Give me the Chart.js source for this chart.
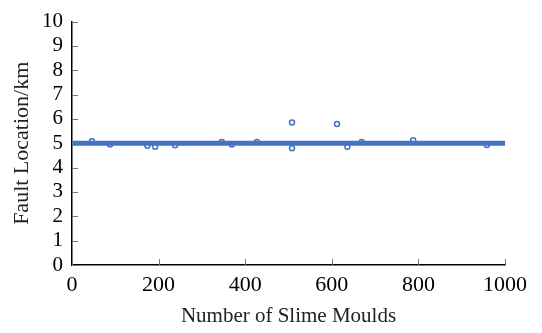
<!DOCTYPE html>
<html>
<head>
<meta charset="utf-8">
<script src="https://cdn.jsdelivr.net/npm/chart.js@4"></script>
<style>
  html, body { margin: 0; padding: 0; background: #fff; }
  #wrap { width: 542px; height: 333px; }
</style>
</head>
<body>
<div id="wrap"><canvas id="chart"></canvas></div>
<script>
// converged population: almost every slime mould sits at 5 km
const bandX = [0, 1000];
const bandY = [5, 5];

// individuals that stray from the band
const strayX = [46, 88, 174, 192, 238, 346, 369, 427, 508, 508, 612, 636, 669, 788, 958];
const strayY = [5.08, 4.95, 4.9, 4.86, 4.92, 5.05, 4.95, 5.05, 5.85, 4.8, 5.79, 4.86, 5.05, 5.13, 4.93];

const xTicks = [0, 200, 400, 600, 800, 1000];
const yTicks = [0, 1, 2, 3, 4, 5, 6, 7, 8, 9, 10];

const blue = 'rgb(68,114,196)';
const serif = "'Liberation Serif', 'Times New Roman', serif";

const toPoints = (xs, ys) => xs.map((x, i) => ({x: x, y: ys[i]}));

// short tick marks pointing into the plot area
const innerTicks = {
    id: 'innerTicks',
    afterDraw(chart) {
        const ctx = chart.ctx;
        const xs = chart.scales.x, ys = chart.scales.y;
        ctx.save();
        ctx.lineWidth = 1;
        yTicks.forEach(v => {
            const py = Math.round(ys.getPixelForValue(v)) + 0.5;
            ctx.strokeStyle = v === 6 ? blue : '#777';
            ctx.beginPath();
            ctx.moveTo(xs.left, py);
            ctx.lineTo(xs.left + 6, py);
            ctx.stroke();
        });
        ctx.strokeStyle = '#777';
        xTicks.forEach(v => {
            const px = Math.round(xs.getPixelForValue(v)) + 0.5;
            ctx.beginPath();
            ctx.moveTo(px, ys.bottom);
            ctx.lineTo(px, ys.bottom - 6);
            ctx.stroke();
        });
        ctx.restore();
    }
};

new Chart(document.getElementById('chart'), {
    type: 'scatter',
    data: {
        datasets: [{
            type: 'line',
            data: toPoints(bandX, bandY),
            borderColor: blue,
            borderWidth: 5,
            borderCapStyle: 'round',
            pointRadius: 0,
            fill: false
        }, {
            data: toPoints(strayX, strayY),
            pointStyle: 'circle',
            pointRadius: 2.5,
            borderWidth: 1.5,
            borderColor: blue,
            backgroundColor: '#fff'
        }]
    },
    options: {
        responsive: true,
        maintainAspectRatio: false,
        animation: false,
        layout: {padding: {top: 13, right: 37, left: 0, bottom: 0}},
        plugins: {legend: {display: false}, tooltip: {enabled: false}},
        scales: {
            x: {
                type: 'linear', min: 0, max: 1000,
                afterBuildTicks: s => { s.ticks = xTicks.map(v => ({value: v})); },
                afterFit: s => { s.height = 68; },
                grid: {display: false, drawTicks: false},
                border: {color: '#000', width: 1.5},
                ticks: {color: '#000', padding: 7, maxRotation: 0, autoSkip: false,
                        callback: v => String(v), font: {family: serif, size: 22}},
                title: {display: true, text: 'Number of Slime Moulds', color: '#222',
                        padding: {top: 0, bottom: 4}, font: {family: serif, size: 21}}
            },
            y: {
                min: 0, max: 10,
                afterBuildTicks: s => { s.ticks = yTicks.map(v => ({value: v})); },
                afterFit: s => { s.width = 72; },
                grid: {display: false, drawTicks: false},
                border: {color: '#000', width: 1.5},
                ticks: {color: '#000', padding: 9, autoSkip: false,
                        callback: v => String(v), font: {family: serif, size: 21}},
                title: {display: true, text: 'Fault Location/km', color: '#222',
                        padding: {top: 9, bottom: 0}, font: {family: serif, size: 22}}
            }
        }
    },
    plugins: [innerTicks]
});
</script>
</body>
</html>
